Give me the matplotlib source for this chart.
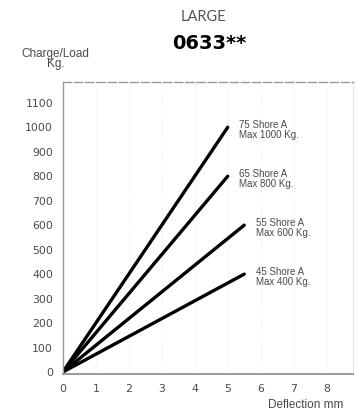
"""Load vs deflection chart for the LARGE 0633** mount."""

import matplotlib
matplotlib.use("Agg")
import matplotlib.pyplot as plt

# data
hardness = ["75 Shore A", "65 Shore A", "55 Shore A", "45 Shore A"]
max_load = [1000, 800, 600, 400]
end_deflection = [5.0, 5.0, 5.5, 5.5]
x_ticks = [0, 1, 2, 3, 4, 5, 6, 7, 8]
y_ticks = [0, 100, 200, 300, 400, 500, 600, 700, 800, 900, 1000, 1100]

TEXT = "#4a4a4a"

fig = plt.figure(figsize=(3.57, 4.16), dpi=100)
ax = fig.add_axes([0.176, 0.101, 0.813, 0.702])

for name, load, defl in zip(hardness, max_load, end_deflection):
    ax.plot([0, defl], [0, load], color="black", linewidth=2.4, solid_capstyle="round")
    ax.text(defl + 0.35, load - 10, f"{name}\nMax {load} Kg.",
            fontsize=7, color=TEXT, va="center", ha="left",
            family="Liberation Sans", linespacing=1.0)

ax.set_xlim(0, 8.8)
ax.set_ylim(-8, 1185)
ax.set_xticks(x_ticks)
ax.set_yticks(y_ticks)
ax.tick_params(length=0, labelsize=7.8, labelcolor=TEXT, pad=7)
for lbl in ax.get_xticklabels() + ax.get_yticklabels():
    lbl.set_family("DejaVu Sans")

ax.grid(True, axis="x", color="#ececec", linestyle=":", linewidth=0.8)
for side, sp in ax.spines.items():
    sp.set_color("#9a9a9a")
    sp.set_linewidth(1.0)
ax.spines["bottom"].set_linewidth(1.4)
ax.spines["top"].set_linestyle((0, (6, 2)))
ax.spines["right"].set_color("#e6e6e6")

fig.text(0.569, 0.958, "LARGE", fontsize=10.5, color="#555555",
         ha="center", va="center", family="Lato")
fig.text(0.585, 0.895, "0633**", fontsize=14, fontweight="bold",
         color="black", ha="center", va="center", family="DejaVu Sans")
fig.text(0.155, 0.858, "Charge/Load\nKg.", fontsize=8.5, color=TEXT,
         ha="center", va="center", family="Liberation Sans", linespacing=0.8)
fig.text(0.75, 0.012, "Deflection mm", fontsize=8.5, color=TEXT,
         ha="left", va="bottom", family="Liberation Sans")

fig.savefig("out.png", dpi=100)
